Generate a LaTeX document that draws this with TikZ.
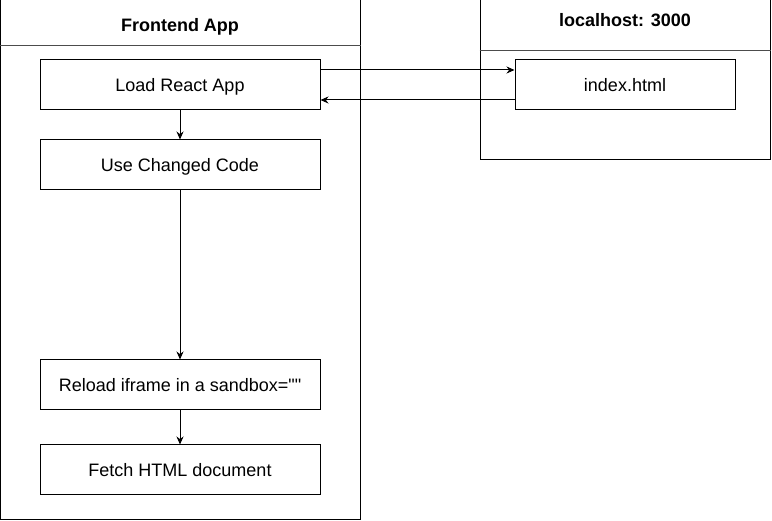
\documentclass[tikz,border=0pt]{standalone}
\usepackage{fontspec}
\setmainfont{Liberation Sans}[Ligatures=TeXOff]
\usetikzlibrary{arrows.meta, positioning}

\begin{document}
\begin{tikzpicture}[x=1pt, y=-1pt, line width=1pt,
  every node/.style={font=\fontsize{18}{22}\selectfont, text height=13pt, text depth=0pt},
  frame/.style={draw, rectangle, inner sep=0pt},
  head/.style={rectangle, inner sep=0pt, font=\fontsize{18}{22}\selectfont\bfseries},
  main/.style={draw, rectangle, minimum width=280pt, minimum height=50pt, inner sep=0pt},
  >={Stealth[length=8pt,width=7pt]}]
           \useasboundingbox (0,0) rectangle (772,521);

           % containers
           \node[frame, minimum width=360pt, minimum height=520pt] (front) at (180,260) {};
           \node[head, minimum width=360pt, minimum height=45pt]   (fhead) at (180,22.5) {};
           \node[head] (ftitle) at (180,25) {Frontend App};
           \node[frame, minimum width=290pt, minimum height=160pt] (local) at (625,80)  {};
           \node[head, minimum width=290pt, minimum height=50pt]   (lhead) at (625,25)  {};
           \node[head] (ltitle) at (625,20) {localhost: 3000};
           \draw[black!70] (fhead.south west) -- (fhead.south east);
           \draw[black!70] (lhead.south west) -- (lhead.south east);

           \node[main] (load)   at (180,85)  {Load React App};
           \node[main] (use)    at (180,165) {Use Changed Code};
           \node[main] (reload) at (180,385) {Reload iframe in a sandbox=""};
           \node[main] (fetch)  at (180,470) {Fetch HTML document};
           \node[main, minimum width=220pt] (index) at (625,85) {index.html};

           \path[->]
           (load)   edge (use)
           (use)    edge (reload)
           (reload) edge (fetch)
           ([yshift=15pt]load.east)   edge ([yshift=15pt]index.west)
           ([yshift=-15pt]index.west) edge ([yshift=-15pt]load.east);
         \end{tikzpicture}
\end{document}
